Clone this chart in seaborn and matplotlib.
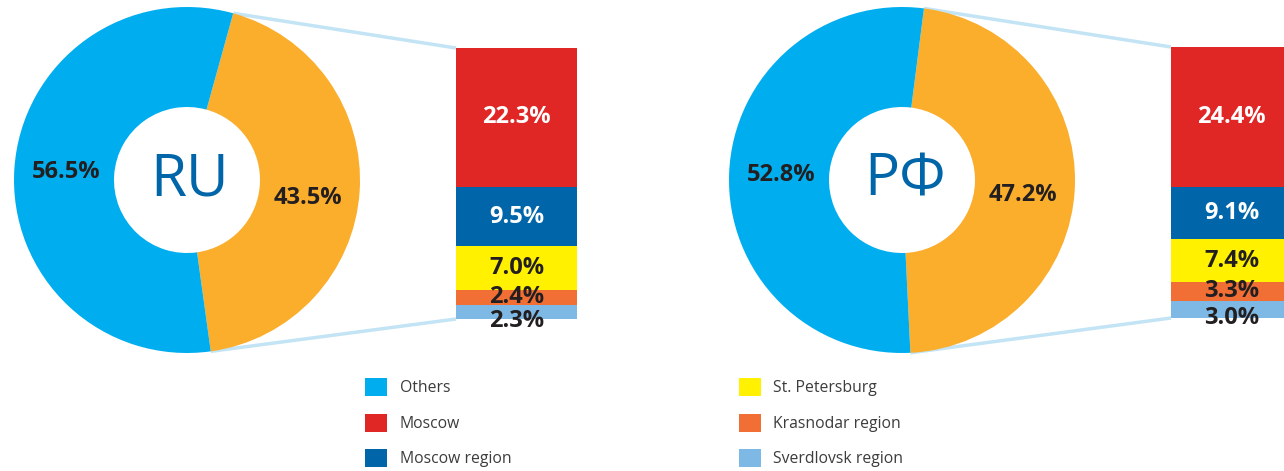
import numpy as np
import seaborn as sns
import matplotlib.pyplot as plt
from matplotlib.patches import Patch

# data
regions = ["Others", "Moscow", "Moscow region", "St. Petersburg",
           "Krasnodar region", "Sverdlovsk region"]
colors = ["#00aeef", "#e12726", "#0066a9", "#fff100", "#f16e35", "#7db9e4"]
pie_colors = ["#fbad2c", "#00aeef"]   # selected regions, others

ru_titles = ["RU", "РФ"]
ru_pie = [[43.5, 56.5], [47.2, 52.8]]
ru_bars = [[22.3, 9.5, 7.0, 2.4, 2.3],
           [24.4, 9.1, 7.4, 3.3, 3.0]]
bar_colors = colors[1:]
bar_text = ["white", "white", "#231f20", "#231f20", "#231f20"]

sns.set_theme(style="white")
plt.rcParams['font.family'] = ['Open Sans', 'DejaVu Sans']

fig = plt.figure(figsize=(12.84, 4.71), dpi=100)
ax = fig.add_axes([0, 0, 1, 1])

# layout (pixels, y up)
H = 471
centers = [(187, H - 180), (902, H - 180)]
start = [74.5, 82.7]
R = 173
hole = 73
bar_left = [456, 1171]
bar_w = 121
bar_top = [H - 48, H - 47]
bar_h = 271
line_col = "#c3e4f4"

for i in range(2):
    cx, cy = centers[i]
    wedges, _, autotexts = ax.pie(
        ru_pie[i], colors=pie_colors, startangle=start[i], counterclock=False,
        radius=R, center=(cx, cy),
        wedgeprops=dict(width=R - hole, edgecolor='none'),
        autopct=lambda p: f"{p:.1f}%", pctdistance=0.70,
        textprops=dict(fontsize=17, fontweight='bold', color='#231f20'))
    # orange label sits a little lower in the original
    x0, y0 = autotexts[0].get_position()
    autotexts[0].set_position((x0, y0 - 10))
    ax.text(cx + 3, cy, ru_titles[i], ha='center', va='center',
            fontsize=42, color='#0066a9')

    # stacked bar
    vals = np.array(ru_bars[i])
    heights = vals / vals.sum() * bar_h
    bottom = bar_top[i]
    xc = bar_left[i] + bar_w / 2
    for j, (v, h) in enumerate(zip(vals, heights)):
        bottom -= h
        ax.bar(xc, h, bottom=bottom, width=bar_w, color=bar_colors[j],
               edgecolor='none', zorder=2)
        ty = bottom + h / 2 - (9 if j == len(vals) - 1 else 0)
        ax.text(xc, ty, f"{v:.1f}%", ha='center', va='center',
                fontsize=17, fontweight='bold', color=bar_text[j], zorder=3)

    # connector lines from the selected wedge to the bar
    w = wedges[0]
    a_top = np.deg2rad(max(w.theta1, w.theta2))
    a_bot = np.deg2rad(min(w.theta1, w.theta2))
    ax.plot([cx + R * np.cos(a_top), bar_left[i]],
            [cy + R * np.sin(a_top), bar_top[i]],
            color=line_col, lw=2.5, zorder=0, solid_capstyle='butt')
    ax.plot([cx + R * np.cos(a_bot), bar_left[i]],
            [cy + R * np.sin(a_bot), bar_top[i] - bar_h],
            color=line_col, lw=2.5, zorder=0, solid_capstyle='butt')

ax.set_xlim(0, 1284)
ax.set_ylim(0, H)
ax.set_aspect('equal')
ax.axis('off')

handles = [Patch(facecolor=c, edgecolor='none') for c in colors]
fig.legend(handles, regions, ncol=2, loc='upper left',
           bbox_to_anchor=(365 / 1284, 1 - 378 / H), frameon=False,
           fontsize=11.3, labelcolor='#3c3c3c', borderpad=0, borderaxespad=0,
           handlelength=1.4, handleheight=1.4, handletextpad=0.8,
           labelspacing=1.1, columnspacing=14.5)

fig.savefig("out.png", dpi=100, facecolor='white')
